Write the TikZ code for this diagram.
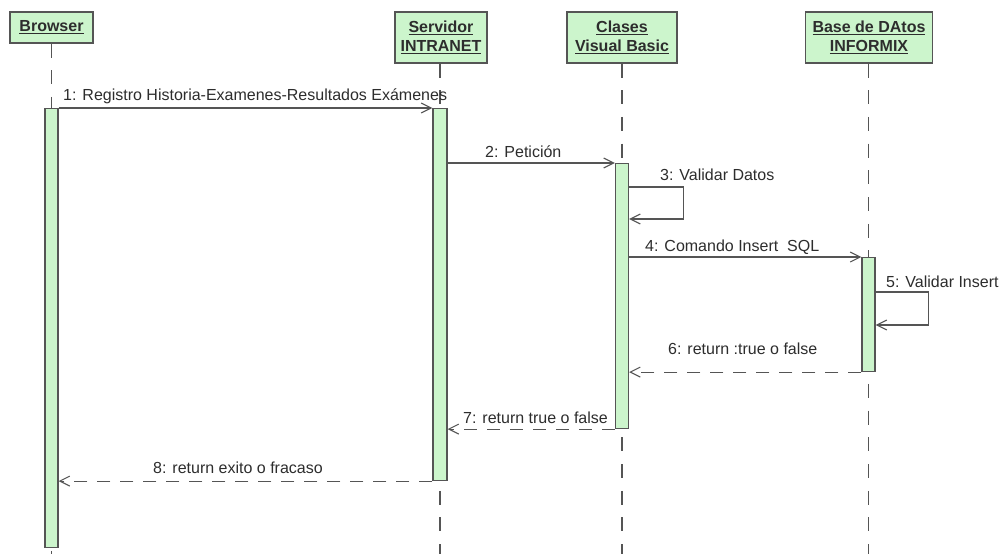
\documentclass[tikz,border=0pt]{standalone}
\usepackage{fontspec}
\setmainfont{Liberation Sans}
\usetikzlibrary{arrows.meta,calc}
\definecolor{boxfill}{RGB}{204,245,204}
\definecolor{linecol}{RGB}{85,85,85}
\definecolor{txtcol}{RGB}{45,45,45}
\tikzset{
  header/.style={draw=linecol, fill=boxfill, line width=1.1pt, inner sep=0pt,
    align=center, text=txtcol, font=\fontsize{16}{19}\selectfont\bfseries},
  actbar/.style={draw=linecol, fill=boxfill, line width=1.1pt, inner sep=0pt,
    minimum width=13pt, anchor=north},
  lifeline/.style={draw=linecol, line width=1.1pt, dash pattern=on 14pt off 12.7pt},
  msg/.style={draw=linecol, line width=1.1pt, -{Straight Barb[length=10pt,width=10pt]}},
  reply/.style={msg, dash pattern=on 13pt off 10pt},
  lbl/.style={anchor=base west, inner sep=0pt, text=txtcol, font=\fontsize{16}{19}\selectfont}
}
\begin{document}
\begin{tikzpicture}[x=1pt, y=-1pt]
\useasboundingbox (0,0) rectangle (1005,554);
\fill[white] (0,0) rectangle (1005,554);

% participants
\node[header, minimum width=83pt, minimum height=31pt] (hB) at (51.5,27.5) {\underline{Browser}};
\node[header, minimum width=92pt, minimum height=51pt] (hS) at (441,37.5) {\underline{Servidor}\\\underline{INTRANET}};
\node[header, minimum width=110pt, minimum height=51pt] (hC) at (622,37.5) {\underline{Clases}\\\underline{Visual Basic}};
\node[header, minimum width=127pt, minimum height=51pt] (hD) at (869,37.5) {\underline{Base de DAtos}\\\underline{INFORMIX}};

% ends of the lifelines
\coordinate (eB) at (51.5,554);
\coordinate (eS) at (440,554);
\coordinate (eC) at (622,554);
\coordinate (eD) at (868.5,554);

\draw[lifeline] (hB.south -| eB) -- (eB);
\draw[lifeline] (hS.south -| eS) -- (eS);
\draw[lifeline] (hC.south -| eC) -- (eC);
\draw[lifeline] (hD.south -| eD) -- (eD);

% activation bars
\node[actbar, minimum height=439pt] (aB) at (51.5,108) {};
\node[actbar, minimum width=14pt, minimum height=372pt] (aS) at (440,108) {};
\node[actbar, minimum height=265pt] (aC) at (622,163) {};
\node[actbar, minimum height=114pt] (aD) at (868.5,257) {};

% messages
\draw[msg] (aB.north east) -- (aS.north west);
\node[lbl] (m1) at (63,100) {1: Registro Historia-Examenes-Resultados Exámenes};

\draw[msg] (aS.east |- aC.north) -- (aC.north west);
\node[lbl] (m2) at (485,157) {2: Petición};

\draw[msg] ($(aC.north east)+(0,24)$) -- ++(54,0) -- ++(0,32) -- ($(aC.north east)+(0,56)$);
\node[lbl] (m3) at (660,180) {3: Validar Datos};

\draw[msg] (aC.east |- aD.north) -- (aD.north west);
\node[lbl] (m4) at (645,251) {4: Comando Insert\ \ SQL};

\draw[msg] ($(aD.north east)+(0,35)$) -- ++(53,0) -- ++(0,33) -- ($(aD.north east)+(0,68)$);
\node[lbl] (m5) at (886,287) {5: Validar Insert};

\draw[reply] (aD.south west) -- (aC.east |- aD.south);
\node[lbl] (m6) at (668,354) {6: return :true o false};

\draw[reply] (aC.south west) -- (aS.east |- aC.south);
\node[lbl] (m7) at (463,423) {7: return true o false};

\draw[reply] (aS.south west) -- (aB.east |- aS.south);
\node[lbl] (m8) at (153,473) {8: return exito o fracaso};
\end{tikzpicture}
\end{document}
